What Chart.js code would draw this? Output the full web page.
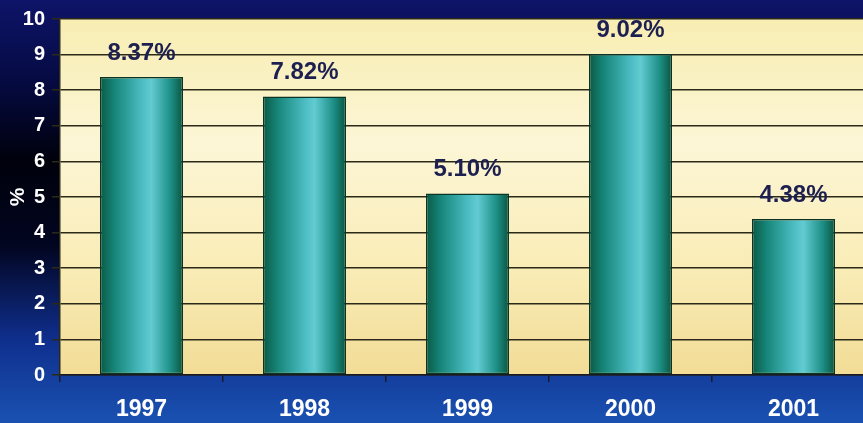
<!DOCTYPE html>
<html>
<head>
<meta charset="utf-8">
<title>Annual rate, 1997-2001</title>
<script src="https://cdn.jsdelivr.net/npm/chart.js@4.4.1/dist/chart.umd.min.js"></script>
<style>
  html, body { margin: 0; padding: 0; overflow: hidden; background: #0b1260; }
  #wrap { position: relative; width: 875px; height: 423px; }
</style>
</head>
<body>
<div id="wrap"><canvas id="rateChart"></canvas></div>
<script>
// values per year, in percent
const years = ['1997', '1998', '1999', '2000', '2001'];
const rates = [8.37, 7.82, 5.10, 9.02, 4.38];
const rateLabels = ['8.37%', '7.82%', '5.10%', '9.02%', '4.38%'];
const yTicks = [0, 1, 2, 3, 4, 5, 6, 7, 8, 9, 10];

const BAR_PCT = 0.51;

// navy backdrop for the whole canvas, pale yellow wash behind the plot
const backdropPlugin = {
    id: 'backdrop',
    beforeDraw(chart) {
        const { ctx, width, height, chartArea: a } = chart;
        ctx.save();
        const bg = ctx.createLinearGradient(0, 0, 0, height);
        bg.addColorStop(0, '#0e1468');
        bg.addColorStop(0.18, '#060b45');
        bg.addColorStop(0.38, '#00010c');
        bg.addColorStop(0.58, '#020520');
        bg.addColorStop(0.8, '#0f2e8c');
        bg.addColorStop(1, '#1a52b2');
        ctx.fillStyle = bg;
        ctx.fillRect(0, 0, width, height);

        const pl = ctx.createLinearGradient(0, a.top, 0, a.bottom);
        pl.addColorStop(0, '#f8edb2');
        pl.addColorStop(0.35, '#fcf6d6');
        pl.addColorStop(0.7, '#f9ecb6');
        pl.addColorStop(1, '#f2dc96');
        ctx.fillStyle = pl;
        ctx.fillRect(a.left, a.top, a.right - a.left, a.bottom - a.top);
        ctx.restore();
    }
};

// percentage text above each bar
const valueLabelPlugin = {
    id: 'valueLabels',
    afterDatasetsDraw(chart) {
        const { ctx } = chart;
        const meta = chart.getDatasetMeta(0);
        ctx.save();
        ctx.font = 'bold 24px "Liberation Sans", Arial, sans-serif';
        ctx.fillStyle = '#1c1f50';
        ctx.textAlign = 'center';
        ctx.textBaseline = 'bottom';
        meta.data.forEach((bar, i) => {
            ctx.fillText(rateLabels[i], bar.x, bar.y - 12);
        });
        ctx.restore();
    }
};

// cylinder shading across each bar
function barGradient(context) {
    const chart = context.chart;
    const xs = chart.scales.x;
    if (!chart.chartArea || !xs) return '#2a9e98';
    const cx = xs.getPixelForValue(context.dataIndex);
    const step = xs.getPixelForValue(1) - xs.getPixelForValue(0);
    const half = step * BAR_PCT / 2;
    const g = chart.ctx.createLinearGradient(cx - half, 0, cx + half, 0);
    g.addColorStop(0, '#0a5a45');
    g.addColorStop(0.18, '#17867a');
    g.addColorStop(0.5, '#4bbcc2');
    g.addColorStop(0.62, '#62cbd2');
    g.addColorStop(0.85, '#1d8f86');
    g.addColorStop(1, '#0a553f');
    return g;
}

const ctx = document.getElementById('rateChart').getContext('2d');

new Chart(ctx, {
    type: 'bar',
    data: {
        labels: years,
        datasets: [{
            data: rates,
            backgroundColor: barGradient,
            borderColor: '#0b3426',
            borderWidth: 1.5,
            borderSkipped: false,
            barPercentage: BAR_PCT,
            categoryPercentage: 1
        }]
    },
    options: {
        responsive: true,
        maintainAspectRatio: false,
        animation: false,
        layout: { padding: { top: 17, right: 0, bottom: 0, left: 0 } },
        plugins: {
            legend: { display: false },
            tooltip: { enabled: false }
        },
        scales: {
            x: {
                grid: {
                    offset: true,
                    drawOnChartArea: false,
                    color: '#1a1a2a',
                    lineWidth: 1.5,
                    tickLength: 7
                },
                border: { color: '#1a1a20', width: 1.5 },
                ticks: {
                    color: '#ffffff',
                    padding: 14,
                    font: { family: '"Liberation Sans", Arial, sans-serif', size: 23, weight: 'bold' }
                },
                afterFit(scale) { scale.height = 48; }
            },
            y: {
                min: 0,
                max: 10,
                afterBuildTicks(scale) {
                    scale.ticks = yTicks.map(v => ({ value: v }));
                },
                grid: {
                    color: '#2b2a18',
                    lineWidth: 1.5,
                    tickLength: 8
                },
                border: { color: '#2b2a18', width: 1.5 },
                ticks: {
                    color: '#ffffff',
                    padding: 7,
                    font: { family: '"Liberation Sans", Arial, sans-serif', size: 20, weight: 'bold' }
                },
                title: {
                    display: true,
                    text: '%',
                    color: '#ffffff',
                    padding: { top: 6, bottom: 0 },
                    font: { family: '"Liberation Sans", Arial, sans-serif', size: 21, weight: 'bold' }
                },
                afterFit(scale) { scale.width = 60; }
            }
        }
    },
    plugins: [backdropPlugin, valueLabelPlugin]
});
</script>
</body>
</html>
